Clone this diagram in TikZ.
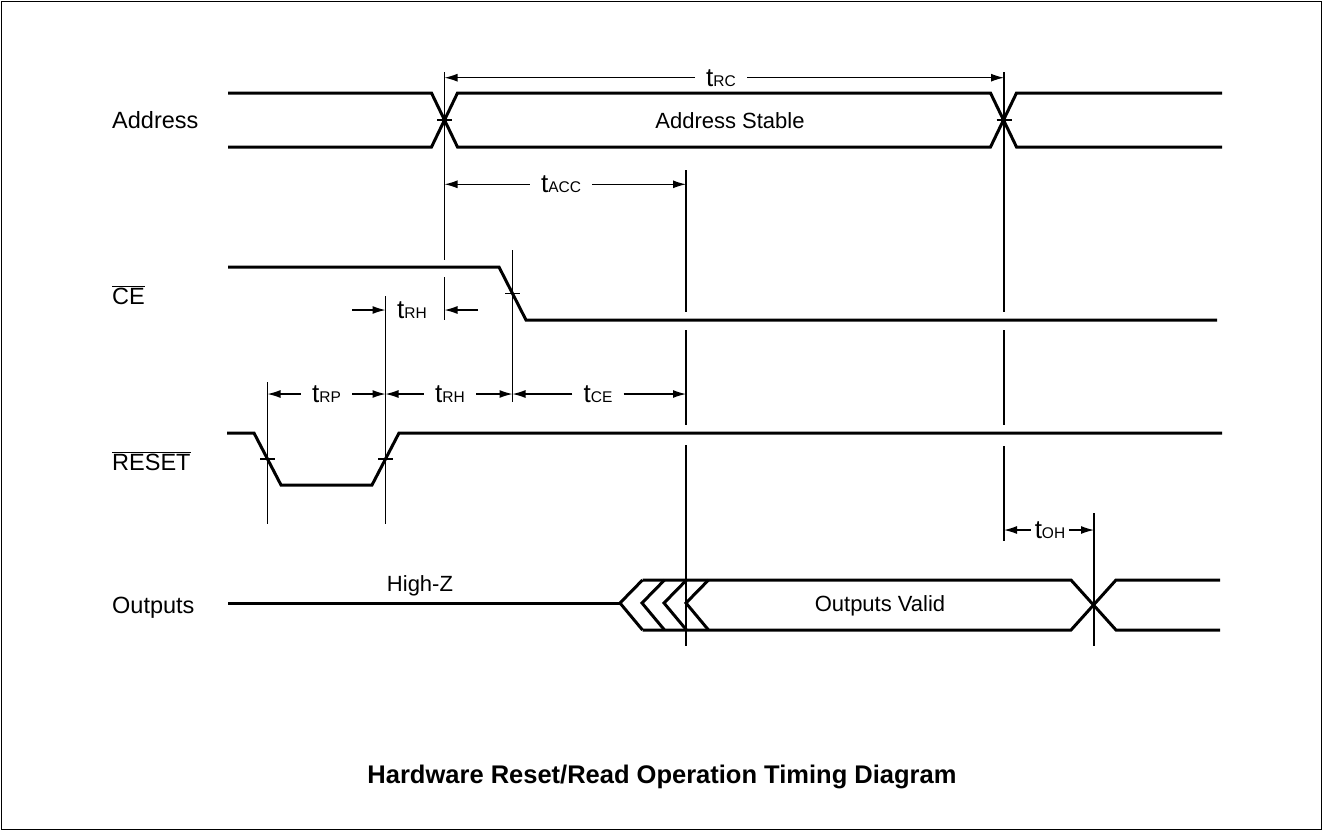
\documentclass[tikz,border=0pt]{standalone}
\usepackage{fontspec}
\setmainfont{Liberation Sans}
\usetikzlibrary{arrows.meta}
\newcommand\tsub[1]{{\fontsize{26}{28}\selectfont t}{\fontsize{15.5}{16}\selectfont #1}}
\begin{document}
\begin{tikzpicture}[x=1pt,y=-1pt,
  sig/.style={line width=3pt,line join=miter},
  guide/.style={line width=1.2pt},
  tickmark/.style={line width=1.2pt},
  dim/.style={line width=1.2pt,-{Latex[length=13pt,width=8pt]}},
  lbl/.style={font=\fontsize{23.5}{27}\selectfont,anchor=base west,inner sep=0pt},
  tlbl/.style={inner xsep=11pt,inner ysep=0pt},
  txt/.style={font=\fontsize{22}{25}\selectfont,inner sep=0pt}]
\useasboundingbox (0,0) rectangle (1323,831);
\draw[line width=1pt] (1.5,1.5) rectangle (1321.5,829.5);

% signal names
\node[lbl] (nAddr) at (112,128) {Address};
\node[lbl] (nCE) at (112,304) {$\overline{\mbox{CE}}$};
\node[lbl] (nRST) at (112,470) {$\overline{\mbox{RESET}}$};
\node[lbl] (nOut) at (112,613) {Outputs};

% Address
\draw[sig] (228,93) -- (431.5,93) -- (457.5,147) -- (990.5,147) -- (1016.5,93) -- (1222,93);
\draw[sig] (228,147) -- (431.5,147) -- (457.5,93) -- (990.5,93) -- (1016.5,147) -- (1222,147);
\node[txt] (aStable) at (730,121) {Address Stable};

% CE
\draw[sig] (228,267) -- (499,267) -- (526,320) -- (1217,320);

% RESET
\draw[sig] (227,433) -- (254,433) -- (281,485) -- (372,485) -- (399,433) -- (1222,433);

% Outputs
\draw[sig] (228,603) -- (620,603);
\foreach \t in {620,642,664,686}{
  \draw[sig] (\t+22.5,580) -- (\t,603) -- (\t+22.5,630);
}
\draw[sig] (642.5,580) -- (1071,580) -- (1116,630) -- (1220,630);
\draw[sig] (642.5,630) -- (1071,630) -- (1116,580) -- (1220,580);
\node[txt] (hiZ) at (420,586) {High-Z};
\node[txt] (oValid) at (880,606) {Outputs Valid};

% guide lines
\coordinate (gA1) at (444.5,72);
\coordinate (gA2) at (1004,72);
\draw[guide] (gA1) -- (444.5,260) (444.5,277) -- (444.5,320);
\draw[guide] (686,170) -- (686,312) (686,330) -- (686,425) (686,445) -- (686,646);
\draw[guide] (gA2) -- (1004,312) (1004,330) -- (1004,425) (1004,446) -- (1004,541);
\draw[guide] (512.5,250) -- (512.5,402);
\draw[guide] (385.5,296) -- (385.5,524);
\draw[guide] (267.5,382) -- (267.5,524);
\draw[guide] (1094,513) -- (1094,646);

% tick marks at crossings
\draw[tickmark] (437,120) -- (452,120);
\draw[tickmark] (996.5,120) -- (1011.5,120);
\draw[tickmark] (505,293.5) -- (520,293.5);
\draw[tickmark] (260,459) -- (275,459);
\draw[tickmark] (378,459) -- (393,459);

% timing dimensions
\node[tlbl] (tRC) at (721,77.7) {\tsub{RC}};
\draw[dim] (tRC.west) -- (444.5,77.7);
\draw[dim] (tRC.east) -- (1004,77.7);

\node[tlbl] (tACC) at (561,184.3) {\tsub{ACC}};
\draw[dim] (tACC.west) -- (444.5,184.3);
\draw[dim] (tACC.east) -- (686,184.3);

\node[tlbl] (tRHa) at (412,310) {\tsub{RH}};
\coordinate (rhL) at (352,310);
\coordinate (rhR) at (478,310);
\draw[dim] (rhL) -- (385.5,310);
\draw[dim] (rhR) -- (444.5,310);

\node[tlbl] (tRP) at (326.5,394) {\tsub{RP}};
\draw[dim] (tRP.west) -- (267.5,394);
\draw[dim] (tRP.east) -- (385.5,394);

\node[tlbl] (tRHb) at (450,394) {\tsub{RH}};
\draw[dim] (tRHb.west) -- (385.5,394);
\draw[dim] (tRHb.east) -- (512.5,394);

\node[tlbl] (tCE) at (598,394) {\tsub{CE}};
\draw[dim] (tCE.west) -- (512.5,394);
\draw[dim] (tCE.east) -- (686,394);

\node[tlbl,inner xsep=4pt] (tOH) at (1050,530) {\tsub{OH}};
\draw[dim] (tOH.west) -- (1004,530);
\draw[dim] (tOH.east) -- (1094,530);

% title
\node[font=\bfseries\fontsize{25.5}{28}\selectfont,inner sep=0pt,anchor=base] (title) at (662,783) {Hardware Reset/Read Operation Timing Diagram};
\end{tikzpicture}
\end{document}
